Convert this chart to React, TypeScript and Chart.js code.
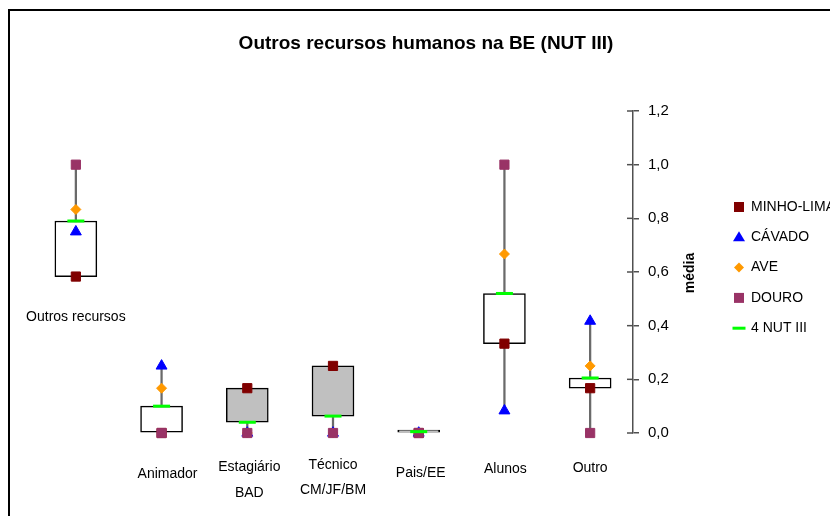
import React, { useEffect, useRef } from 'react';
import { Chart, registerables } from 'chart.js';

Chart.register(...registerables);

// ---------- data ----------
const categories: string[][] = [
  ['Outros recursos'],
  ['Animador'],
  ['Estagiário', 'BAD'],
  ['Técnico', 'CM/JF/BM'],
  ['Pais/EE'],
  ['Alunos'],
  ['Outro'],
];
const minhoLima = [0.583, 0, 0.167, 0.25, 0, 0.333, 0.167];
const cavado = [0.75, 0.25, 0, 0, 0, 0.083, 0.417];
const ave = [0.833, 0.167, 0, 0, 0, 0.667, 0.25];
const douro = [1.0, 0, 0, 0, 0, 1.0, 0];
const nut3 = [0.79, 0.1, 0.04, 0.063, 0.005, 0.52, 0.205];

const seriesNames = ['MINHO-LIMA', 'CÁVADO', 'AVE', 'DOURO', '4 NUT III'];
const yMin = 0;
const yMax = 1.2;
const yStep = 0.2;
const titleText = 'Outros recursos humanos na BE (NUT III)';
const yTitle = 'média';

// ---------- styles / layout ----------
const COLORS = {
  minho: '#800000',
  cavado: '#0000FF',
  ave: '#FF9900',
  douro: '#993366',
  nut: '#00FF00',
  whisker: '#6a6a6a',
  boxUp: '#FFFFFF',
  boxDown: '#C0C0C0',
  axis: '#505050',
};
const FONT = '"Liberation Sans", Arial, sans-serif';

// label placement: horizontal offset from category centre, centre y per line
const labelLayout = [
  { dx: 0, ys: [317] },
  { dx: 6, ys: [474] },
  { dx: 2, ys: [467, 493] },
  { dx: 0, ys: [465, 490] },
  { dx: 2, ys: [473] },
  { dx: 1, ys: [469] },
  { dx: 0, ys: [468] },
];

const lows = categories.map((_, i) => Math.min(minhoLima[i], cavado[i], ave[i], douro[i], nut3[i]));
const highs = categories.map((_, i) => Math.max(minhoLima[i], cavado[i], ave[i], douro[i], nut3[i]));

function drawMarker(ctx: CanvasRenderingContext2D, kind: string, x: number, y: number, color: string) {
  ctx.save();
  ctx.fillStyle = color;
  ctx.strokeStyle = color;
  ctx.beginPath();
  if (kind === 'rect') {
    ctx.rect(x - 5, y - 5, 10, 10);
    ctx.fill();
  } else if (kind === 'triangle') {
    ctx.moveTo(x, y - 6);
    ctx.lineTo(x + 6, y + 4);
    ctx.lineTo(x - 6, y + 4);
    ctx.closePath();
    ctx.fill();
  } else if (kind === 'rectRot') {
    ctx.moveTo(x, y - 5);
    ctx.lineTo(x + 5, y);
    ctx.lineTo(x, y + 5);
    ctx.lineTo(x - 5, y);
    ctx.closePath();
    ctx.fill();
  } else {
    ctx.lineWidth = 3;
    ctx.moveTo(x - 6.5, y);
    ctx.lineTo(x + 6.5, y);
    ctx.stroke();
  }
  ctx.restore();
}

const overlayPlugin = {
  id: 'overlay',
  afterDraw(chart: any) {
    const ctx: CanvasRenderingContext2D = chart.ctx;
    const xs = chart.scales.x;
    const ys = chart.scales.y;
    const area = chart.chartArea;
    ctx.save();

    // outer frame (top and left visible)
    ctx.strokeStyle = '#000';
    ctx.lineWidth = 2;
    ctx.beginPath();
    ctx.moveTo(9, 530);
    ctx.lineTo(9, 10);
    ctx.lineTo(840, 10);
    ctx.stroke();

    // title
    ctx.fillStyle = '#000';
    ctx.font = `bold 19px ${FONT}`;
    ctx.textAlign = 'center';
    ctx.textBaseline = 'middle';
    ctx.fillText(titleText, 426, 44);

    // inner half of cross tick marks
    ctx.strokeStyle = COLORS.axis;
    ctx.lineWidth = 1.5;
    ys.ticks.forEach((t: any) => {
      const py = ys.getPixelForValue(t.value);
      ctx.beginPath();
      ctx.moveTo(area.right - 6, py);
      ctx.lineTo(area.right, py);
      ctx.stroke();
    });

    // y axis title rotated bottom-to-top
    ctx.save();
    ctx.translate(690, 273);
    ctx.rotate(-Math.PI / 2);
    ctx.font = `bold 14px ${FONT}`;
    ctx.fillStyle = '#000';
    ctx.textAlign = 'center';
    ctx.textBaseline = 'middle';
    ctx.fillText(yTitle, 0, 0);
    ctx.restore();

    // category labels
    ctx.font = `14px ${FONT}`;
    ctx.fillStyle = '#000';
    ctx.textAlign = 'center';
    ctx.textBaseline = 'middle';
    categories.forEach((lines, i) => {
      const lay = labelLayout[i];
      const cx = xs.getPixelForValue(i) + lay.dx;
      lines.forEach((ln, j) => ctx.fillText(ln, cx, lay.ys[j]));
    });

    // legend
    const kinds = ['rect', 'triangle', 'rectRot', 'rect', 'line'];
    const cols = [COLORS.minho, COLORS.cavado, COLORS.ave, COLORS.douro, COLORS.nut];
    ctx.font = `14px ${FONT}`;
    ctx.textAlign = 'left';
    seriesNames.forEach((name, i) => {
      const ly = 207 + i * 30.3;
      drawMarker(ctx, kinds[i], 739, ly, cols[i]);
      ctx.fillStyle = '#000';
      ctx.fillText(name, 751, ly);
    });

    ctx.restore();
  },
};

export default function App() {
  const ref = useRef<HTMLCanvasElement>(null);

  useEffect(() => {
    if (!ref.current) return;
    const pointDs = (label: string, data: number[], color: string, style: string, radius: number, order: number, bw = 1) => ({
      type: 'line' as const,
      label,
      data,
      showLine: false,
      pointStyle: style,
      pointRadius: radius,
      pointHoverRadius: radius,
      pointBackgroundColor: color,
      pointBorderColor: color,
      pointBorderWidth: bw,
      borderColor: color,
      backgroundColor: color,
      clip: false as any,
      order,
    });

    const chart = new Chart(ref.current, {
      type: 'bar',
      data: {
        labels: categories.map((c) => c.join(' ')),
        datasets: [
          {
            type: 'bar',
            label: 'range',
            data: categories.map((_, i) => [lows[i], highs[i]]) as any,
            backgroundColor: COLORS.whisker,
            borderWidth: 0,
            barThickness: 1.6,
            grouped: false,
            order: 10,
          } as any,
          {
            type: 'bar',
            label: 'box',
            data: categories.map((_, i) => [minhoLima[i], nut3[i]]) as any,
            backgroundColor: categories.map((_, i) => (nut3[i] >= minhoLima[i] ? COLORS.boxUp : COLORS.boxDown)),
            borderColor: '#000',
            borderWidth: 1.5,
            borderSkipped: false,
            barThickness: 42,
            minBarLength: 3,
            grouped: false,
            clip: false,
            order: 9,
          } as any,
          pointDs(seriesNames[0], minhoLima, COLORS.minho, 'rect', 6.5, 5),
          pointDs(seriesNames[1], cavado, COLORS.cavado, 'triangle', 6.3, 4),
          pointDs(seriesNames[2], ave, COLORS.ave, 'rectRot', 5, 3),
          pointDs(seriesNames[3], douro, COLORS.douro, 'rect', 6.5, 2),
          pointDs(seriesNames[4], nut3, COLORS.nut, 'line', 8.5, 1, 3),
        ],
      },
      options: {
        responsive: false,
        animation: false,
        events: [],
        layout: { padding: { left: 33, right: 0, top: 111, bottom: 83 } },
        plugins: {
          legend: { display: false },
          tooltip: { enabled: false },
          title: { display: false },
        },
        scales: {
          x: {
            type: 'category',
            display: false,
            offset: true,
          },
          y: {
            type: 'linear',
            position: 'right',
            min: yMin,
            max: yMax,
            ticks: {
              stepSize: yStep,
              color: '#000',
              font: { family: FONT, size: 15 },
              padding: 9,
              callback: (v: any) => Number(v).toFixed(1).replace('.', ','),
            },
            grid: {
              drawOnChartArea: false,
              drawTicks: true,
              tickLength: 6,
              color: COLORS.axis,
              lineWidth: 1.5,
            },
            border: { display: true, color: COLORS.axis, width: 1.5 },
            afterFit: (scale: any) => {
              scale.width = 197;
            },
          } as any,
        },
      },
      plugins: [overlayPlugin],
    });
    return () => chart.destroy();
  }, []);

  return (
    <div style={{ position: 'absolute', left: 0, top: 0, width: 830, height: 516, background: '#fff' }}>
      <canvas ref={ref} width={830} height={516} style={{ width: 830, height: 516, display: 'block' }} />
    </div>
  );
}
